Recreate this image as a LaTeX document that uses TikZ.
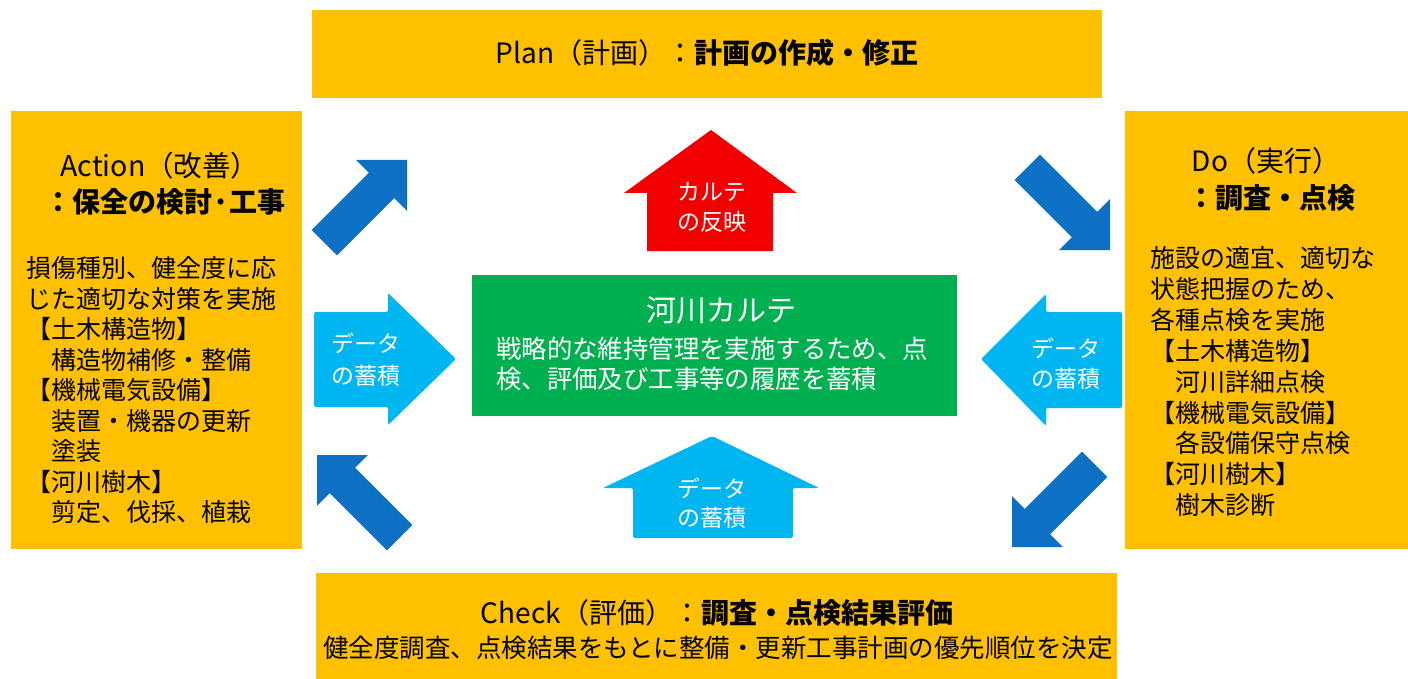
\documentclass[tikz,border=0pt]{standalone}
\usepackage{fontspec}
\setmainfont{Noto Sans CJK JP}
\definecolor{pdcayellow}{HTML}{FFC000}
\definecolor{cyclearrow}{HTML}{0E70C4}
\definecolor{datablue}{HTML}{00B6F0}
\definecolor{karteRed}{HTML}{F20000}
\definecolor{karteGreen}{HTML}{00B050}
\newcommand\fsz[1]{\fontsize{#1}{#1}\selectfont}
\begin{document}
\begin{tikzpicture}[x=1pt,y=-1pt,
  ybox/.style={fill=pdcayellow,draw=none,inner sep=0pt,anchor=north west},
  txt/.style={inner sep=0pt,anchor=base,text=black},
  bodyline/.style={inner sep=0pt,anchor=base west,text=black,font=\fsz{25}},
  wtxt/.style={inner sep=0pt,anchor=base,text=white,font=\fsz{23}},
  blockarrow/.style={fill=#1,draw=none},
  diag/.style={fill=cyclearrow,draw=none}]
\useasboundingbox (0,0) rectangle (1408,679);
\fill[white] (0,0) rectangle (1408,679);

% yellow boxes
\node[ybox,minimum width=790pt,minimum height=88pt] (plan) at (312,10) {};
\node[ybox,minimum width=291pt,minimum height=438pt] (action) at (11,111) {};
\node[ybox,minimum width=283pt,minimum height=438pt] (do) at (1125,111) {};
\node[ybox,minimum width=801pt,minimum height=106pt] (check) at (316,573) {};

% green box
\node[fill=karteGreen,draw=none,inner sep=0pt,anchor=north west,minimum width=485pt,minimum height=141pt] (karte) at (472,275) {};

% titles
\node[txt,font=\fsz{28}] (plantitle) at (707,64) {Plan（計画）：\textbf{計画の作成・修正}};
\node[txt,font=\fsz{28.5}] (acttitle1) at (160,177) {Action（改善）};
\node[txt,font=\fsz{28}\bfseries] (acttitle2) at (165,213) {：保全の検討·工事};
\node[txt,font=\fsz{28}] (dotitle1) at (1266,172) {Do（実行）};
\node[txt,font=\fsz{28}\bfseries] (dotitle2) at (1271,208) {：調査・点検};
\node[txt,font=\fsz{28}] (checktitle) at (717,623) {Check（評価）：\textbf{調査・点検結果評価}};
\node[txt,font=\fsz{25.5}] (checkbody) at (718,657.5) {健全度調査、点検結果をもとに整備・更新工事計画の優先順位を決定};

% action body
\foreach \t [count=\i from 0] in {損傷種別、健全度に応,じた適切な対策を実施,【土木構造物】,　構造物補修・整備,【機械電気設備】,　装置・機器の更新,　塗装,【河川樹木】,　剪定、伐採、植栽}
  \node[bodyline] (actline\i) at (26,277.5+30.5*\i) {\t};
% do body
\foreach \t [count=\i from 0] in {施設の適宜、適切な,状態把握のため、,各種点検を実施,【土木構造物】,　河川詳細点検,【機械電気設備】,　各設備保守点検,【河川樹木】,　樹木診断}
  \node[bodyline] (doline\i) at (1150,267.5+30.9*\i) {\t};

% karte text
\node[txt,text=white,font=\fsz{30}] (kartetitle) at (721,321) {河川カルテ};
\node[inner sep=0pt,anchor=base west,text=white,font=\fsz{25.4}] (karte1) at (496,358) {戦略的な維持管理を実施するため、点};
\node[inner sep=0pt,anchor=base west,text=white,font=\fsz{25.4}] (karte2) at (496,388) {検、評価及び工事等の履歴を蓄積};

% red arrow up
\fill[blockarrow=karteRed] (711,130) -- (797,193) -- (773,193) -- (773,251) -- (647,251) -- (647,193) -- (624,193) -- cycle;
\node[wtxt] (red1) at (712,201) {カルテ};
\node[wtxt] (red2) at (712,231) {の反映};

% light blue arrows
\fill[blockarrow=datablue,rounded corners=2pt] (314,312) -- (388,312) -- (388,293) -- (456,359) -- (388,425) -- (388,407) -- (314,407) -- cycle;
\node[wtxt] (dl1) at (366,352) {データ};
\node[wtxt] (dl2) at (366,384) {の蓄積};
\fill[blockarrow=datablue,rounded corners=2pt] (981,359) -- (1046,294) -- (1046,312) -- (1122,312) -- (1122,408) -- (1046,408) -- (1046,426) -- cycle;
\node[wtxt] (dr1) at (1066,357) {データ};
\node[wtxt] (dr2) at (1066,387) {の蓄積};
\fill[blockarrow=datablue,rounded corners=2pt] (712,436) -- (819,488) -- (793,488) -- (793,538) -- (633,538) -- (633,488) -- (603,488) -- cycle;
\node[wtxt] (db1) at (712,497) {データ};
\node[wtxt] (db2) at (712,526) {の蓄積};

% dark blue diagonal arrows
\foreach \p/\a in {{407,160}/45, {1110,250}/-45, {1012,547}/-135, {317,455}/135}
  \fill[diag,shift={(\p)},rotate=\a] (0,0) -- (-36,36) -- (-36,18) -- (-117,18) -- (-117,-18) -- (-36,-18) -- (-36,-36) -- cycle;
\end{tikzpicture}
\end{document}
